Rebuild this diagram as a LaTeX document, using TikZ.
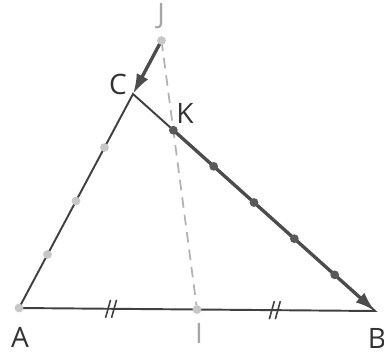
\documentclass[tikz,border=0pt]{standalone}
\usepackage{fontspec}
\setmainfont{Open Sans}
\usetikzlibrary{arrows.meta,calc}

\begin{document}
\begin{tikzpicture}[x=0.02cm, y=-0.02cm, font=\fontsize{16}{18}\selectfont,
  side/.style={draw=black!75, line width=1.1pt},
  vec/.style={draw=black!70, line width=1.9pt, -{Latex[length=4mm, width=2.6mm]}},
  dsh/.style={draw=black!30, line width=1pt, dash pattern=on 6pt off 4pt},
  tk/.style={draw=black!75, line width=0.9pt},
  pt/.style={circle, fill=black!65, inner sep=0pt, minimum size=5pt},
  lpt/.style={circle, fill=black!22, inner sep=0pt, minimum size=5pt},
  lbl/.style={text=black!80, inner sep=0pt}, llbl/.style={lbl, text=black!35}]
 \useasboundingbox (0,0) rectangle (384,354);
 % points
 \coordinate (A) at (19,308);
 \coordinate (B) at (375,311);
 \coordinate (C) at (133,94);
 \coordinate (J) at ($(C)!-0.25!(A)$);
 \coordinate (I) at ($(A)!0.5!(B)$);
 \coordinate (K) at ($(C)!1/6!(B)$);
 % triangle and dashed line
 \draw[dsh] (J) -- (I);
 \draw[side] (A) -- (C) -- (B) -- cycle;
 % codes on [AB]
 \foreach \s in {0.26,0.72}{
   \coordinate (m) at ($(A)!\s!(B)$);
   \draw[tk] ($(m)+(-6,9)$) -- ($(m)+(-1,-9)$);
   \draw[tk] ($(m)+(0,9)$) -- ($(m)+(5,-9)$);
 }
 % vectors
 \draw[vec] (K) -- (B);
 \draw[vec] (J) -- (C);
 % graduations
 \foreach \s in {0.25,0.5,0.75} \node[lpt] at ($(A)!\s!(C)$) {};
 \foreach \s in {2,3,4,5} \node[pt] at ($(C)!\s/6!(B)$) {};
 \node[pt] at (K) {};
 \node[lpt] at (A) {};
 \node[lpt] at (I) {};
 \node[lpt] at (J) {};
 % labels
 \node[lbl] (lA) at (20,337) {A};
 \node[lbl] (lB) at (377,338) {B};
 \node[lbl] (lC) at (118,84) {C};
 \node[lbl] (lK) at (185,113) {K};
 \node[llbl] (lJ) at (161,16) {J};
 \node[llbl] (lI) at (199,333) {I};
\end{tikzpicture}
\end{document}
